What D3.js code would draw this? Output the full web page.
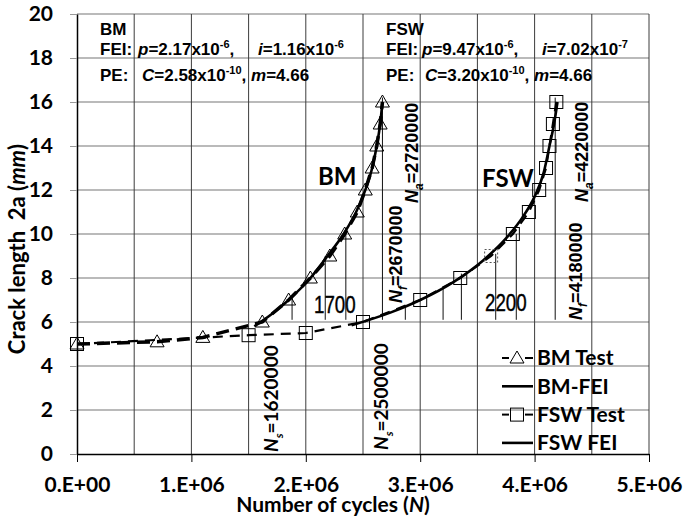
<!DOCTYPE html>
<html lang="en">
<head>
<meta charset="UTF-8">
<title>Crack length vs cycles</title>
<script src="https://cdn.jsdelivr.net/npm/d3@7"></script>
<style>
    body { margin: 0; background: #fff; }
    svg { display: block; }
    .tick text { font-family: Lato, sans-serif; font-weight: bold; font-size: 21px; fill: #000; }
    .ann { font-family: "Liberation Sans", Arial, sans-serif; font-weight: bold; }
    .lbl { font-family: Lato, sans-serif; font-weight: bold; }
</style>
</head>
<body>
<div id="chart"></div>
<script>
    // test data (N, 2a)
    var bmTest = [[0, 5], [0.70e6, 5.1], [1.10e6, 5.3], [1.62e6, 6], [1.85e6, 7], [2.04e6, 8], [2.21e6, 9],
        [2.34e6, 10], [2.45e6, 11], [2.52e6, 12], [2.58e6, 13], [2.62e6, 14], [2.65e6, 15], [2.67e6, 16]];
    var fswTest = [[0, 5], [1.50e6, 5.4], [2.0e6, 5.5], [2.5e6, 6], [3.0e6, 7], [3.35e6, 8], [3.62e6, 9],
        [3.81e6, 10], [3.95e6, 11], [4.04e6, 12], [4.10e6, 13], [4.13e6, 14], [4.16e6, 15], [4.19e6, 16]];
    // FEI curves
    var bmFei = [[1.55e6, 5.8], [1.70e6, 6.35], [1.85e6, 7.0], [2.04e6, 8.0], [2.19e6, 9.0], [2.33e6, 10.0],
        [2.44e6, 11.0], [2.52e6, 12.0], [2.58e6, 13.0], [2.62e6, 14.0], [2.65e6, 15.0], [2.67e6, 16.0]];
    var fswFei = [[2.40e6, 5.85], [2.75e6, 6.45], [3.0e6, 7.0], [3.3e6, 7.85], [3.55e6, 8.8], [3.75e6, 9.8],
        [3.9e6, 10.8], [4.0e6, 11.7], [4.08e6, 12.8], [4.13e6, 14.0], [4.17e6, 15.0], [4.2e6, 16.0]];
    // thin drop lines: N, top of line (bottom at dropBase)
    var dropBase = 6.1;
    var bmDrops = [[1.88e6, 7.2], [2.17e6, 9.0], [2.35e6, 10.1], [2.67e6, 16.2]];
    var fswDrops = [[2.87e6, 6.7], [3.2e6, 7.5], [3.36e6, 8.2], [3.66e6, 9.1], [3.84e6, 10.0], [4.18e6, 16.2]];
    var dashedPoint = [3.62e6, 9];

    var xTicks = [0, 1e6, 2e6, 3e6, 4e6, 5e6];
    var xTickLabels = ["0.E+00", "1.E+06", "2.E+06", "3.E+06", "4.E+06", "5.E+06"];
    var xGrid = [0, 0.5e6, 1e6, 1.5e6, 2e6, 2.5e6, 3e6, 3.5e6, 4e6, 4.5e6, 5e6];
    var yTicks = [0, 2, 4, 6, 8, 10, 12, 14, 16, 18, 20];
    var legendNames = ["BM Test", "BM-FEI", "FSW Test", "FSW FEI"];

    var width = 686, height = 517;
    var x = d3.scaleLinear().domain([0, 5e6]).range([77, 649]);
    var y = d3.scaleLinear().domain([0, 20]).range([454, 14]);

    var svg = d3.select("#chart").append("svg")
        .attr("width", width)
        .attr("height", height);

    // grid
    svg.append("g").selectAll("line")
        .data(yTicks.slice(1))
        .enter().append("line")
        .attr("x1", x(0)).attr("x2", x(5e6))
        .attr("y1", d => y(d)).attr("y2", d => y(d))
        .attr("stroke", "#a3a3a3").attr("stroke-width", 1.3);
    svg.append("g").selectAll("line")
        .data(xGrid.slice(1))
        .enter().append("line")
        .attr("x1", d => x(d)).attr("x2", d => x(d))
        .attr("y1", y(20)).attr("y2", y(0))
        .attr("stroke", "#3c3c3c").attr("stroke-width", 1);

    // axes
    var xAxis = d3.axisBottom(x).tickValues(xTicks)
        .tickFormat((d, i) => xTickLabels[i])
        .tickSize(8).tickSizeOuter(0).tickPadding(15);
    var yAxis = d3.axisLeft(y).tickValues(yTicks)
        .tickSize(7).tickSizeOuter(0).tickPadding(17);
    var gx = svg.append("g").attr("transform", "translate(0," + y(0) + ")").call(xAxis);
    var gy = svg.append("g").attr("transform", "translate(" + x(0) + ",0)").call(yAxis);
    gx.selectAll("text").attr("dy", "0.71em");
    [gx, gy].forEach(function (g) {
        g.select(".domain").attr("stroke", "#000").attr("stroke-width", 1.5);
        g.selectAll(".tick line").attr("stroke", "#000");
    });
    gy.selectAll(".tick line").attr("stroke", "#999");

    // axis titles
    var yt = svg.append("text").attr("class", "lbl")
        .attr("transform", "translate(25,249) rotate(-90)")
        .attr("text-anchor", "middle").style("font-size", "22px");
    yt.append("tspan").text("Crack length\u00a0 2a (");
    yt.append("tspan").attr("font-style", "italic").text("mm");
    yt.append("tspan").text(")");
    var xt = svg.append("text").attr("class", "lbl")
        .attr("x", 333).attr("y", 512)
        .attr("text-anchor", "middle").style("font-size", "21px");
    xt.append("tspan").text("Number of cycles (");
    xt.append("tspan").attr("font-style", "italic").text("N");
    xt.append("tspan").text(")");

    // drop lines
    svg.append("g").selectAll("line")
        .data(bmDrops.concat(fswDrops))
        .enter().append("line")
        .attr("x1", d => x(d[0])).attr("x2", d => x(d[0]))
        .attr("y1", d => y(d[1])).attr("y2", y(dropBase))
        .attr("stroke", "#111").attr("stroke-width", 1);

    var line = d3.line().x(d => x(d[0])).y(d => y(d[1]));
    var curve = d3.line().x(d => x(d[0])).y(d => y(d[1])).curve(d3.curveMonotoneX);

    // test series dashed lines
    svg.append("path").datum(fswTest).attr("d", line)
        .attr("fill", "none").attr("stroke", "#000").attr("stroke-width", 2.2)
        .attr("stroke-dasharray", "10,7");
    svg.append("path").datum(bmTest).attr("d", line)
        .attr("fill", "none").attr("stroke", "#000").attr("stroke-width", 3.5)
        .attr("stroke-dasharray", "13,7");

    // FEI curves
    [bmFei, fswFei].forEach(function (s) {
        svg.append("path").datum(s).attr("d", curve)
            .attr("fill", "none").attr("stroke", "#000").attr("stroke-width", 2.6);
    });

    // markers
    function triangle(g, cx, cy) {
        g.append("path").attr("d", "M0,-7L7,5L-7,5Z")
            .attr("transform", "translate(" + cx + "," + cy + ")")
            .attr("fill", "none").attr("stroke", "#000").attr("stroke-width", 1);
    }
    function square(g, cx, cy, dash) {
        g.append("rect").attr("x", cx - 6.5).attr("y", cy - 6.5).attr("width", 13).attr("height", 13)
            .attr("fill", "none").attr("stroke", dash ? "#555" : "#000").attr("stroke-width", 1)
            .attr("stroke-dasharray", dash ? "2,2" : null);
    }
    var gm = svg.append("g");
    fswTest.forEach(function (d) {
        var isDash = d[0] === dashedPoint[0] && d[1] === dashedPoint[1];
        square(gm, x(d[0]), y(d[1]), isDash);
    });
    bmTest.forEach(function (d) { triangle(gm, x(d[0]), y(d[1])); });

    // parameter annotations
    function annText(yy) {
        return svg.append("text").attr("class", "ann").attr("y", yy).style("font-size", "17px");
    }
    function annotation(x0, name, p, i, C, xs) {
        annText(35).attr("x", x0).text(name);
        var t1 = annText(55);
        t1.append("tspan").attr("x", x0).text("FEI:");
        t1.append("tspan").attr("x", xs[0]).attr("font-style", "italic").text("p");
        t1.append("tspan").text("=" + p[0] + "x10");
        t1.append("tspan").attr("dy", -7).style("font-size", "11px").text(p[1]);
        t1.append("tspan").attr("dy", 7).text(",");
        t1.append("tspan").attr("x", xs[1]).attr("font-style", "italic").text("i");
        t1.append("tspan").text("=" + i[0] + "x10");
        t1.append("tspan").attr("dy", -7).style("font-size", "11px").text(i[1]);
        var t2 = annText(81);
        t2.append("tspan").attr("x", x0).text("PE:");
        t2.append("tspan").attr("x", xs[2]).attr("font-style", "italic").text("C");
        t2.append("tspan").text("=" + C[0] + "x10");
        t2.append("tspan").attr("dy", -7).style("font-size", "11px").text(C[1]);
        t2.append("tspan").attr("dy", 7).text(", ");
        t2.append("tspan").attr("font-style", "italic").text("m");
        t2.append("tspan").text("=4.66");
    }
    annotation(100, "BM", ["2.17", "-6"], ["1.16", "-6"], ["2.58", "-10"], [138, 258, 142]);
    annotation(386, "FSW", ["9.47", "-6"], ["7.02", "-7"], ["3.20", "-10"], [422, 542, 425]);

    // big labels
    svg.append("text").attr("class", "lbl").attr("x", 318).attr("y", 185).style("font-size", "24px").text("BM");
    svg.append("text").attr("class", "lbl").attr("x", 482).attr("y", 187).style("font-size", "24px").text("FSW");

    // narrow numbers
    [["1700", 314, 313], ["2200", 485, 311]].forEach(function (d) {
        svg.append("text").attr("class", "ann")
            .attr("transform", "translate(" + d[1] + "," + d[2] + ") scale(0.78,1)")
            .style("font-size", "24px").style("font-weight", "normal")
            .attr("stroke", "#000").attr("stroke-width", 0.4).text(d[0]);
    });

    // rotated cycle labels: [sub, value, baseline x, start y, font]
    var rotLabels = [
        ["s", "1620000", 278, 452, "lbl"],
        ["s", "2500000", 388, 450, "lbl"],
        ["f", "2670000", 402, 303, "ann"],
        ["a", "2720000", 418, 203, "ann"],
        ["f", "4180000", 582, 320, "ann"],
        ["a", "4220000", 588, 202, "ann"]
    ];
    rotLabels.forEach(function (d) {
        var t = svg.append("text").attr("class", d[4])
            .attr("transform", "translate(" + d[2] + "," + d[3] + ") rotate(-90)")
            .style("font-size", d[4] === "lbl" ? "19px" : "18px");
        t.append("tspan").attr("font-style", "italic").text("N");
        t.append("tspan").attr("dy", 5).style("font-size", "12px").attr("font-style", "italic").text(d[0]);
        t.append("tspan").attr("dy", -5).text("=" + d[1]);
    });

    // legend
    var lg = svg.append("g");
    legendNames.forEach(function (name, i) {
        var cy = 358 + i * 28.3;
        if (i % 2 === 0) {
            lg.append("line").attr("x1", 502).attr("x2", 509).attr("y1", cy).attr("y2", cy)
                .attr("stroke", "#000").attr("stroke-width", 2);
            lg.append("line").attr("x1", 525).attr("x2", 533).attr("y1", cy).attr("y2", cy)
                .attr("stroke", "#000").attr("stroke-width", 2);
            if (i === 0) triangle(lg, 517, cy);
            else square(lg, 517, cy, false);
        } else {
            lg.append("line").attr("x1", 502).attr("x2", 533).attr("y1", cy).attr("y2", cy)
                .attr("stroke", "#000").attr("stroke-width", 2.6);
        }
        lg.append("text").attr("class", "lbl").attr("x", 537).attr("y", cy).attr("dy", "0.35em")
            .style("font-size", "21px").text(name);
    });
</script>
</body>
</html>
